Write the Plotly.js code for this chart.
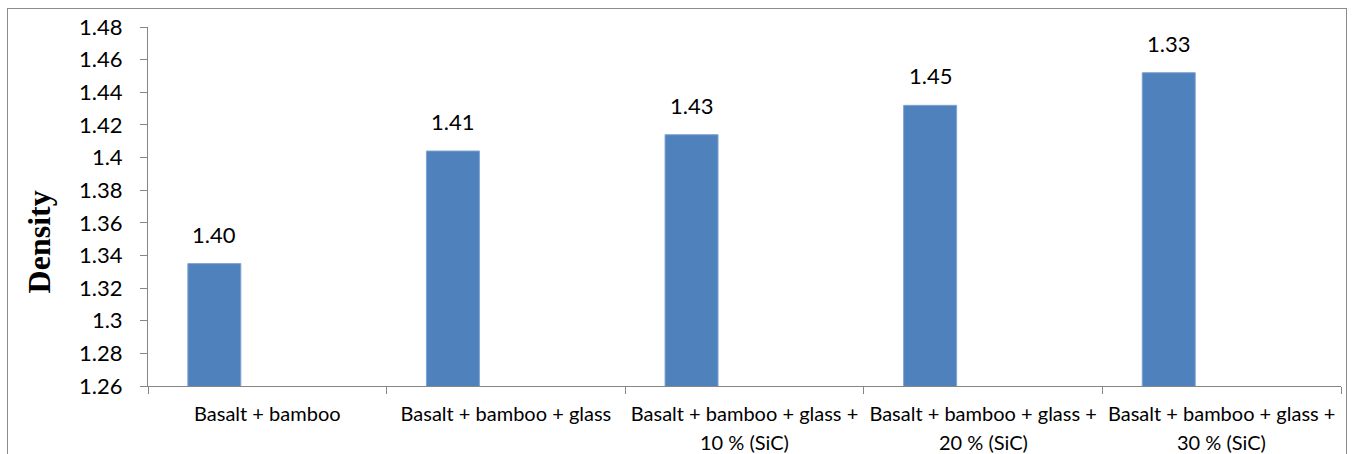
<!DOCTYPE html>
<html>
<head>
<meta charset="utf-8">
<script src="https://cdn.plot.ly/plotly-3.0.1.min.js"></script>
<style>
  html, body { margin: 0; padding: 0; background: #fff; overflow: hidden; }
  #frame { position: absolute; left: 7px; top: 8px; width: 1340px; height: 470px;
           border: 1px solid #8c8c8c; box-sizing: border-box; }
  #chart { position: absolute; left: 0; top: 0; width: 1354px; height: 454px; }
</style>
</head>
<body>
<div id="frame"></div>
<div id="chart"></div>
<script>
// Category names, split into the two lines shown under the axis
const categoryLine1 = [
  'Basalt + bamboo',
  'Basalt + bamboo + glass',
  'Basalt + bamboo + glass +',
  'Basalt + bamboo + glass +',
  'Basalt + bamboo + glass +'
];
const categoryLine2 = ['', '', '10 % (SiC)', '20 % (SiC)', '30 % (SiC)'];
const categories = categoryLine1.map((l, i) => (l + ' ' + categoryLine2[i]).trim());

// Density of each composite
const density = [1.335, 1.404, 1.414, 1.432, 1.452];
// Data-label text printed above each bar
const labelText = ['1.40', '1.41', '1.43', '1.45', '1.33'];

// Y-axis ticks
const yTicks = [1.26, 1.28, 1.30, 1.32, 1.34, 1.36, 1.38, 1.40, 1.42, 1.44, 1.46, 1.48];

const sans = 'Lato, "Open Sans", sans-serif';
const axisGrey = '#868686';
const barWidth = 0.222;
const barOffset = -0.333;

const trace = {
  type: 'bar',
  x: categories,
  y: density,
  width: density.map(() => barWidth),
  offset: density.map(() => barOffset),
  marker: { color: '#4F81BD', line: { color: '#7fa3d2', width: 1 } },
  hoverinfo: 'x+y'
};

const annotations = [];
// value labels centred over each bar
density.forEach((v, i) => {
  annotations.push({
    x: i + barOffset + barWidth / 2, y: v, xref: 'x', yref: 'y',
    text: labelText[i], showarrow: false, yanchor: 'bottom', yshift: 14,
    font: { family: sans, size: 22, color: '#000' }
  });
});
// second line of the category labels
categoryLine2.forEach((t, i) => {
  if (!t) return;
  annotations.push({
    x: i, y: 0, xref: 'x', yref: 'paper', text: t, showarrow: false,
    yanchor: 'top', yshift: -42, font: { family: sans, size: 20, color: '#000' }
  });
});
// vertical axis title
annotations.push({
  x: 0, y: 0.40, xref: 'paper', yref: 'paper', xanchor: 'center', yanchor: 'middle',
  xshift: -109, text: '<b>Density</b>', textangle: -90, showarrow: false,
  font: { family: '"Liberation Serif", "Times New Roman", serif', size: 32, color: '#000' }
});

const layout = {
  width: 1354, height: 454,
  margin: { l: 148, r: 13, t: 27, b: 68 },
  paper_bgcolor: 'rgba(0,0,0,0)', plot_bgcolor: 'rgba(0,0,0,0)',
  showlegend: false,
  xaxis: {
    type: 'category',
    tickmode: 'array', tickvals: categories, ticktext: categoryLine1,
    tickson: 'boundaries', ticks: 'outside', ticklen: 7, tickcolor: axisGrey, tickwidth: 1,
    showline: true, linecolor: axisGrey, linewidth: 1,
    showgrid: false, zeroline: false,
    ticklabelstandoff: 10,
    tickfont: { family: sans, size: 20, color: '#000' },
    range: [-0.5, categories.length - 0.5]
  },
  yaxis: {
    range: [1.26, 1.48], tickmode: 'array', tickvals: yTicks,
    ticktext: yTicks.map(v => String(+v.toFixed(2))),
    ticks: 'outside', ticklen: 7, tickcolor: axisGrey, tickwidth: 1,
    showline: true, linecolor: axisGrey, linewidth: 1,
    showgrid: false, zeroline: false,
    ticklabelstandoff: 13,
    tickfont: { family: sans, size: 22, color: '#000' }
  },
  annotations: annotations
};

Plotly.newPlot('chart', [trace], layout, { displayModeBar: false, staticPlot: true });
</script>
</body>
</html>
